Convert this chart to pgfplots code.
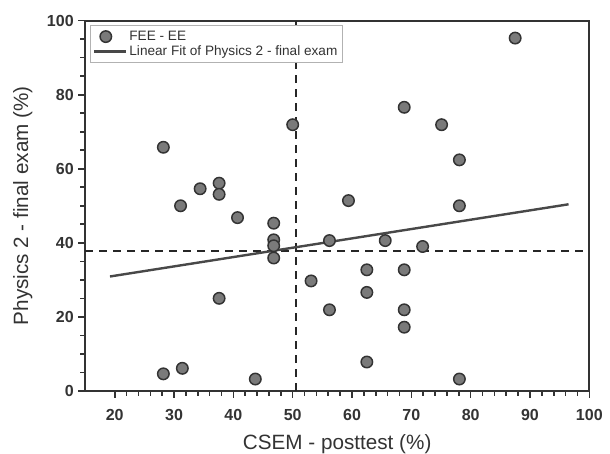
\documentclass[border=0pt]{standalone}
\usepackage{fontspec}
\setmainfont{Liberation Sans}
\usepackage{pgfplots}
\pgfplotsset{compat=1.18}

\definecolor{axgray}{HTML}{333333}
\definecolor{ptfill}{HTML}{7A7A7A}
\definecolor{fitgray}{HTML}{484848}

\begin{document}
\begin{tikzpicture}
\begin{axis}[
  scale only axis,
  width=378pt, height=277.5pt,
  xmin=15, xmax=100, ymin=0, ymax=100,
  xtick={20,30,...,100}, ytick={0,20,...,100},
  minor x tick num=4, minor y tick num=3,
  axis line style={axgray, line width=1.4pt},
  every tick/.style={axgray, line width=1.2pt},
  tick align=outside,
  major tick length=5pt, minor tick length=3.5pt,
  xtick pos=bottom, ytick pos=left,
  /pgf/number format/assume math mode=true,
  tick label style={font=\fontsize{12}{14}\selectfont\bfseries, text=axgray},
  xticklabel style={yshift=-5pt},
  label style={font=\fontsize{15.5}{18}\selectfont, text=axgray},
  xlabel={CSEM - posttest (\%)},
  ylabel={Physics 2 - final exam (\%)},
  xlabel style={yshift=-3.5pt},
  ylabel style={yshift=4pt},
  legend style={at={(axis description cs:0.01,0.988)}, anchor=north west,
    draw=gray!60, line width=0.7pt, font=\fontsize{10.2}{12}\selectfont,
    text=axgray, inner sep=2pt, row sep=-1.5pt},
  legend cell align=left,
  clip=false,
]
\addlegendimage{only marks, mark=*, mark size=4.3pt,
  mark options={fill=ptfill, draw=axgray, line width=1.1pt}}
\addlegendentry{FEE - EE}
% reference lines
\addplot[forget plot, black!85, line width=1.4pt, dash pattern=on 6pt off 4.5pt]
  coordinates {(50.5,0) (50.5,100)};
\addplot[forget plot, black!85, line width=1.4pt, dash pattern=on 6pt off 4.5pt]
  coordinates {(15,37.7) (100,37.7)};
% linear fit
\addplot[fitgray, line width=1.8pt,
  legend image code/.code={\draw[fitgray, line width=1.8pt] (0cm,0cm) -- (0.82cm,0cm);}]
  coordinates {(19.2,30.9) (96.5,50.4)};
\addlegendentry{Linear Fit of Physics 2 - final exam}
% data
\addplot[forget plot, only marks, mark=*, mark size=4.3pt,
  mark options={fill=ptfill, draw=axgray, line width=1.1pt}]
  coordinates {
  (28.2,65.8) (31.1,50.0) (34.4,54.6) (37.6,56.1) (37.6,53.1)
  (40.7,46.8) (46.8,45.3) (46.8,40.8) (46.8,39.2) (46.8,35.9)
  (50.0,71.9) (37.6,25.0) (28.2,4.6) (31.4,6.1) (43.7,3.2)
  (53.1,29.7) (56.2,40.6) (56.2,21.9) (59.4,51.4) (78.1,50.0)
  (65.6,40.6) (71.9,39.0) (62.5,32.7) (68.8,32.7) (62.5,26.6)
  (68.8,21.9) (68.8,17.2) (62.5,7.8) (78.1,3.2) (87.5,95.3)
  (68.8,76.6) (75.1,71.9) (78.1,62.4)
  };
\end{axis}
\pgfresetboundingbox
\path[use as bounding box] ([shift={(-63.75pt,-46.7pt)}]current axis.south west)
  rectangle ([shift={(15.5pt,15.5pt)}]current axis.north east);
\end{tikzpicture}
\end{document}
